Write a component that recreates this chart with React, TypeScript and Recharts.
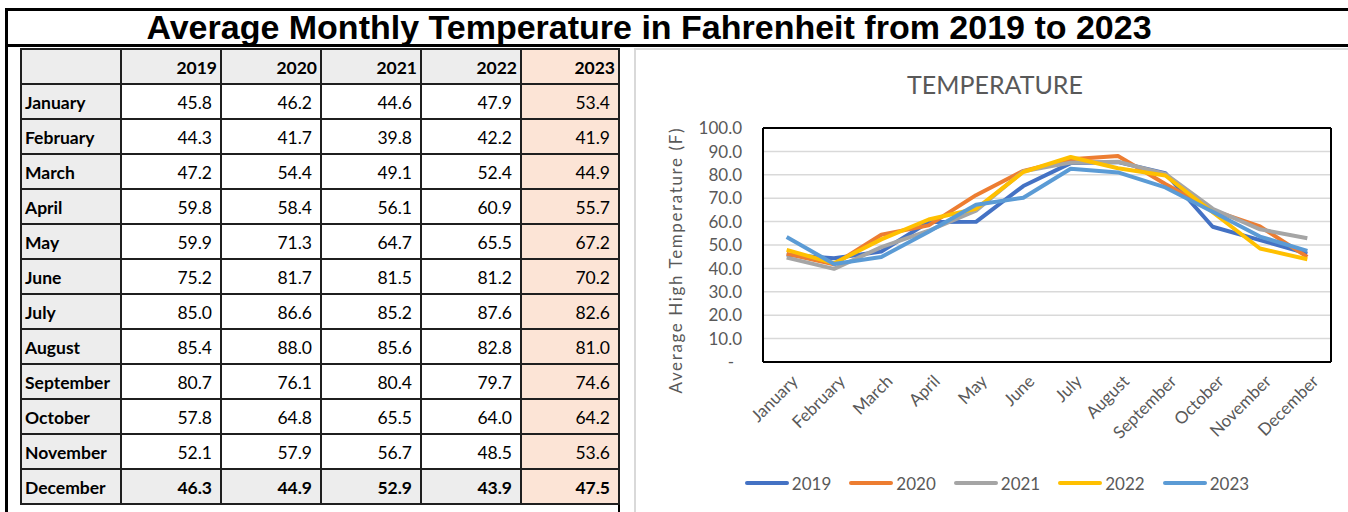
import React from 'react';
import { LineChart, Line, XAxis, YAxis, CartesianGrid, Legend } from 'recharts';

const months = ['January', 'February', 'March', 'April', 'May', 'June', 'July', 'August', 'September', 'October', 'November', 'December'];
const years = ['2019', '2020', '2021', '2022', '2023'];
const t2019 = [45.8, 44.3, 47.2, 59.8, 59.9, 75.2, 85.0, 85.4, 80.7, 57.8, 52.1, 46.3];
const t2020 = [46.2, 41.7, 54.4, 58.4, 71.3, 81.7, 86.6, 88.0, 76.1, 64.8, 57.9, 44.9];
const t2021 = [44.6, 39.8, 49.1, 56.1, 64.7, 81.5, 85.2, 85.6, 80.4, 65.5, 56.7, 52.9];
const t2022 = [47.9, 42.2, 52.4, 60.9, 65.5, 81.2, 87.6, 82.8, 79.7, 64.0, 48.5, 43.9];
const t2023 = [53.4, 41.9, 44.9, 55.7, 67.2, 70.2, 82.6, 81.0, 74.6, 64.2, 53.6, 47.5];
const seriesValues = [t2019, t2020, t2021, t2022, t2023];
const colors = ['#4472C4', '#ED7D31', '#A5A5A5', '#FFC000', '#5B9BD5'];
const yTicks = [0, 10, 20, 30, 40, 50, 60, 70, 80, 90, 100];

const pageTitle = 'Average Monthly Temperature in Fahrenheit from 2019 to 2023';
const chartTitle = 'TEMPERATURE';
const yLabel = 'Average High Temperature (F)';

const data = months.map((m, i) => {
  const row: Record<string, string | number> = { month: m };
  years.forEach((y, k) => { row['y' + y] = seriesValues[k][i]; });
  return row;
});

const FONT = 'Lato, "Open Sans", sans-serif';
const GRAY = '#595959';

const YTick = (props: any) => {
  const { x, y, payload } = props;
  const v = payload.value as number;
  return (
    <text x={v === 0 ? x - 8 : x} y={y} dy="0.36em" textAnchor="end" fill={GRAY} fontSize={17} fontFamily={FONT}>
      {v === 0 ? '-' : v.toFixed(1)}
    </text>
  );
};

const XTick = (props: any) => {
  const { x, y, payload } = props;
  const ax = x + 8;
  const ay = y + 6;
  return (
    <text x={ax} y={ay} dy="0.36em" textAnchor="end" fill={GRAY} fontSize={17} fontFamily={FONT}
      transform={`rotate(-45, ${ax}, ${ay})`}>
      {payload.value}
    </text>
  );
};

const YLabel = (props: any) => {
  const vb = props.viewBox || { x: 0, y: 0, width: 0, height: 0 };
  const cx = vb.x + 42;
  const cy = vb.y + vb.height / 2 + 16;
  return (
    <text x={cx} y={cy} dy="0.36em" textAnchor="middle" fill={GRAY} fontSize={17} fontFamily={FONT}
      transform={`rotate(-90, ${cx}, ${cy})`} textLength={265} lengthAdjust="spacing">
      {yLabel}
    </text>
  );
};

const LegendContent = () => (
  <div style={{ height: 20, display: 'flex', justifyContent: 'center', alignItems: 'center', paddingLeft: 12, fontFamily: FONT, fontSize: 17, color: GRAY }}>
    {years.map((y, k) => (
      <div key={y} style={{ display: 'flex', alignItems: 'center', marginRight: k < years.length - 1 ? 18 : 0 }}>
        <div style={{ width: 44, height: 4, borderRadius: 2, background: colors[k], marginRight: 3 }} />
        <span>{y}</span>
      </div>
    ))}
  </div>
);

const plotEdgesX = (args: any) => {
  const o = args.offset;
  return [o.left, o.left + o.width];
};
const plotEdgesY = (args: any) => {
  const o = args.offset;
  return [o.top, o.top + o.height];
};

const COLW = [98, 98, 98, 98, 98, 96];
const HEADER_BG = '#EDEDED';
const PEACH = '#FCE4D6';

const Table = () => {
  const cells: React.ReactNode[] = [];
  const header = ['', ...years];
  header.forEach((h, c) => {
    cells.push(
      <div key={'h' + c} style={{ background: c === 5 ? PEACH : HEADER_BG, display: 'flex', alignItems: 'flex-end', justifyContent: 'flex-end', paddingRight: 3, paddingBottom: 5, fontWeight: 700 }}>{h}</div>
    );
  });
  months.forEach((m, r) => {
    const last = r === months.length - 1;
    cells.push(
      <div key={'l' + r} style={{ background: HEADER_BG, display: 'flex', alignItems: 'flex-end', justifyContent: 'flex-start', paddingLeft: 3, paddingBottom: 5, fontWeight: 700 }}>{m}</div>
    );
    seriesValues.forEach((vals, c) => {
      const bg = c === 4 ? PEACH : last ? HEADER_BG : '#FFFFFF';
      cells.push(
        <div key={'c' + r + '-' + c} style={{ background: bg, display: 'flex', alignItems: 'flex-end', justifyContent: 'flex-end', paddingRight: 8, paddingBottom: 5, fontWeight: last ? 700 : 400 }}>{vals[r].toFixed(1)}</div>
      );
    });
  });
  return (
    <div style={{ position: 'absolute', left: 20, top: 48, display: 'grid', gridTemplateColumns: COLW.map((w) => w + 'px').join(' '), gridAutoRows: '33px', gap: 2, padding: 2, background: '#1f1f1f', fontFamily: FONT, fontSize: 17.5, color: '#000' }}>
      {cells}
    </div>
  );
};

export default function App() {
  return (
    <div style={{ position: 'absolute', left: 0, top: 0, width: 1348, height: 512, background: '#fff', overflow: 'hidden' }}>
      <div style={{ position: 'absolute', left: 5, top: 8, width: 1343, height: 3, background: '#000' }} />
      <div style={{ position: 'absolute', left: 5, top: 8, width: 3, height: 504, background: '#000' }} />
      <div style={{ position: 'absolute', left: 5, top: 44, width: 1343, height: 3, background: '#000' }} />
      <div style={{ position: 'absolute', left: 618, top: 500, width: 2, height: 12, background: '#000' }} />
      <div style={{ position: 'absolute', left: 5, top: 10, width: 1288, height: 34, fontFamily: '"Liberation Sans", Arial, sans-serif', fontWeight: 700, fontSize: 34, lineHeight: '34px', textAlign: 'center', color: '#000' }}>
        {pageTitle}
      </div>
      <Table />
      <div style={{ position: 'absolute', left: 634, top: 48, width: 714, height: 464, borderLeft: '2px solid #D9D9D9', borderTop: '2px solid #D9D9D9', boxSizing: 'border-box' }} />
      <div style={{ position: 'absolute', left: 634, top: 69, width: 722, textAlign: 'center', fontFamily: FONT, fontSize: 25, color: GRAY }}>
        {chartTitle}
      </div>
      <div style={{ position: 'absolute', left: 634, top: 48 }}>
        <LineChart width={714} height={464} data={data} margin={{ top: 80, right: 17, bottom: 19, left: 0 }}>
          <CartesianGrid vertical={false} stroke="#D9D9D9" strokeWidth={1.5} />
          <CartesianGrid stroke="#000" strokeWidth={2}
            horizontalCoordinatesGenerator={plotEdgesY} verticalCoordinatesGenerator={plotEdgesX} />
          <XAxis dataKey="month" interval={0} height={111} tickSize={0} tickMargin={10} tickLine={false}
            axisLine={false} padding={{ left: 23.67, right: 23.67 }} tick={<XTick />} />
          <YAxis domain={[0, 100]} ticks={yTicks} width={129} tickSize={0} tickMargin={21} tickLine={false}
            axisLine={false} tick={<YTick />} label={<YLabel />} />
          <Legend verticalAlign="bottom" wrapperStyle={{ left: 0, width: 714 }} content={<LegendContent />} />
          {years.map((y, k) => (
            <Line key={y} type="linear" dataKey={'y' + y} name={y} stroke={colors[k]} strokeWidth={4}
              dot={false} strokeLinejoin="round" isAnimationActive={false} />
          ))}
        </LineChart>
      </div>
    </div>
  );
}
